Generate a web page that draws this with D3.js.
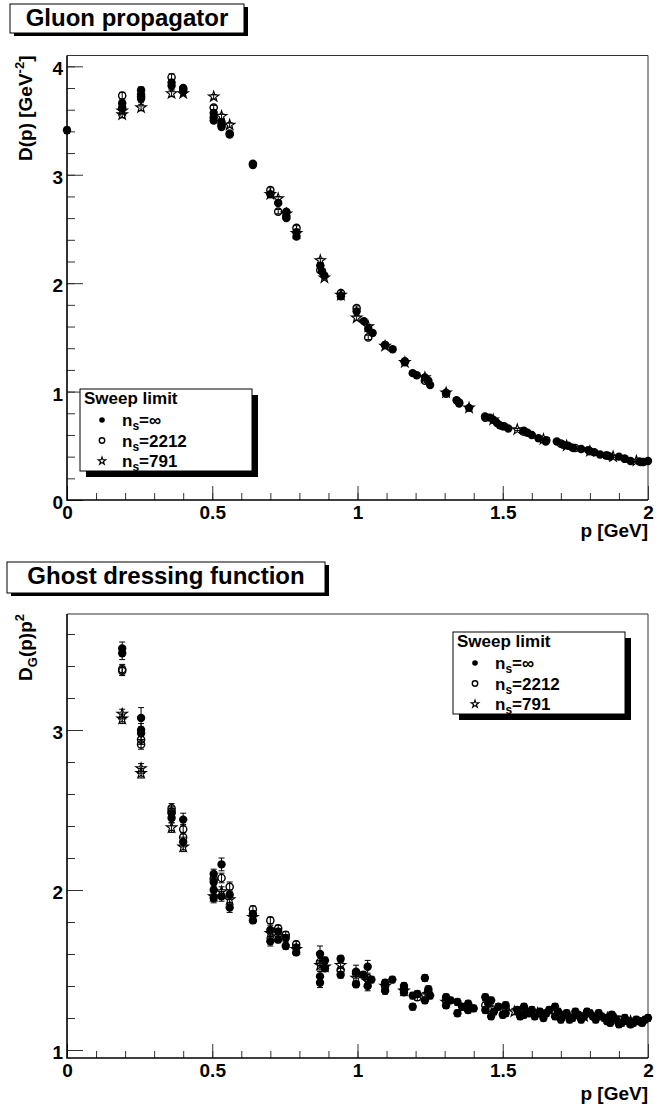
<!DOCTYPE html>
<html>
<head>
<meta charset="utf-8">
<script src="https://cdn.jsdelivr.net/npm/d3@7/dist/d3.min.js"></script>
<style>
body { margin: 0; background: #fff; }
svg text { font-family: "Liberation Sans", Arial, Helvetica, sans-serif; font-weight: bold; fill: #000; }
</style>
</head>
<body>
<script>
//tick values and labels shared by both panels
var xTickValues = [0, 0.5, 1, 1.5, 2];
var xTickLabels = ["0", "0.5", "1", "1.5", "2"];
var gluonYTicks = [0, 1, 2, 3, 4];
var ghostYTicks = [1, 2, 3];

//legend entries (sweep limit n_s)
var legendTitle = "Sweep limit";
var sweepLimits = ["\u221e", "2212", "791"];

//gluon propagator D(p): [p, value, error]
var gluonInf = [
    [0, 3.41, 0.03],
    [0.19, 3.66, 0.03], [0.19, 3.62, 0.03],
    [0.255, 3.78, 0.03], [0.255, 3.74, 0.03], [0.255, 3.70, 0.03],
    [0.36, 3.85, 0.03], [0.36, 3.82, 0.03],
    [0.40, 3.80, 0.02], [0.40, 3.77, 0.02],
    [0.505, 3.57, 0.02], [0.505, 3.53, 0.02], [0.505, 3.50, 0.02],
    [0.532, 3.48, 0.02], [0.532, 3.44, 0.02],
    [0.56, 3.37, 0.02], [0.64, 3.09, 0.02],
    [0.70, 2.82, 0.02], [0.727, 2.74, 0.02], [0.755, 2.66, 0.02], [0.755, 2.60, 0.02],
    [0.79, 2.47, 0.02], [0.79, 2.43, 0.02],
    [0.872, 2.16, 0.02], [0.878, 2.11, 0.02], [0.886, 2.07, 0.02],
    [0.943, 1.88, 0.02], [0.997, 1.74, 0.02], [1.022, 1.65, 0.02],
    [1.037, 1.58, 0.02], [1.052, 1.54, 0.02], [1.095, 1.43, 0.02], [1.121, 1.39, 0.02],
    [1.163, 1.27, 0.02], [1.19, 1.17, 0.02], [1.204, 1.15, 0.02],
    [1.232, 1.13, 0.02], [1.244, 1.10, 0.02], [1.25, 1.06, 0.02],
    [1.305, 0.99, 0.02], [1.341, 0.92, 0.02], [1.35, 0.89, 0.02], [1.384, 0.85, 0.02],
    [1.439, 0.77, 0.01], [1.455, 0.76, 0.01], [1.467, 0.74, 0.01], [1.48, 0.71, 0.01],
    [1.49, 0.69, 0.01], [1.505, 0.68, 0.01], [1.519, 0.66, 0.01],
    [1.573, 0.64, 0.01], [1.585, 0.62, 0.01], [1.60, 0.60, 0.01], [1.623, 0.57, 0.01],
    [1.648, 0.54, 0.01], [1.686, 0.54, 0.01], [1.708, 0.51, 0.01], [1.725, 0.50, 0.01],
    [1.743, 0.48, 0.01], [1.77, 0.47, 0.01], [1.794, 0.46, 0.01], [1.815, 0.44, 0.01],
    [1.835, 0.42, 0.01], [1.855, 0.41, 0.01], [1.87, 0.40, 0.01], [1.90, 0.40, 0.01],
    [1.92, 0.38, 0.01], [1.94, 0.36, 0.01], [1.97, 0.355, 0.01], [1.985, 0.35, 0.01],
    [2.0, 0.36, 0.01]
];
var gluon2212 = [
    [0.19, 3.73, 0.03], [0.255, 3.72, 0.03], [0.36, 3.90, 0.03], [0.40, 3.79, 0.02],
    [0.505, 3.62, 0.02], [0.532, 3.46, 0.02], [0.56, 3.38, 0.02], [0.64, 3.10, 0.02],
    [0.70, 2.86, 0.02], [0.727, 2.66, 0.02], [0.755, 2.62, 0.02], [0.79, 2.51, 0.02],
    [0.872, 2.12, 0.02], [0.943, 1.91, 0.02], [0.997, 1.77, 0.02], [1.037, 1.50, 0.02],
    [1.095, 1.43, 0.02], [1.163, 1.28, 0.02], [1.232, 1.10, 0.02], [1.305, 0.98, 0.02],
    [1.35, 0.90, 0.02], [1.44, 0.76, 0.01], [1.50, 0.68, 0.01], [1.573, 0.63, 0.01],
    [1.65, 0.55, 0.01], [1.70, 0.52, 0.01], [1.75, 0.48, 0.01], [1.80, 0.45, 0.01],
    [1.86, 0.41, 0.01], [1.92, 0.38, 0.01], [1.98, 0.35, 0.01]
];
var gluon791 = [
    [0.19, 3.59, 0.03], [0.19, 3.555, 0.03], [0.255, 3.62, 0.03], [0.36, 3.75, 0.03],
    [0.40, 3.75, 0.02], [0.505, 3.72, 0.02], [0.532, 3.54, 0.02], [0.56, 3.46, 0.02],
    [0.70, 2.82, 0.02], [0.727, 2.78, 0.02], [0.755, 2.64, 0.02], [0.79, 2.46, 0.02],
    [0.872, 2.21, 0.02], [0.886, 2.05, 0.02], [0.943, 1.89, 0.02], [0.997, 1.68, 0.02],
    [1.037, 1.60, 0.02], [1.095, 1.42, 0.02], [1.163, 1.27, 0.02], [1.232, 1.13, 0.02],
    [1.305, 0.99, 0.02], [1.384, 0.85, 0.02], [1.467, 0.74, 0.01], [1.55, 0.65, 0.01],
    [1.64, 0.56, 0.01], [1.72, 0.50, 0.01], [1.80, 0.45, 0.01], [1.88, 0.40, 0.01],
    [1.96, 0.36, 0.01]
];

//ghost dressing function D_G(p)p^2: [p, value, error]
var ghostInf = [
    [0.19, 3.51, 0.04], [0.19, 3.48, 0.04],
    [0.255, 3.075, 0.065], [0.255, 3.00, 0.04], [0.255, 2.98, 0.04],
    [0.36, 2.48, 0.03], [0.36, 2.45, 0.03],
    [0.40, 2.44, 0.04], [0.40, 2.30, 0.03],
    [0.505, 2.10, 0.03], [0.505, 2.05, 0.03], [0.505, 2.00, 0.03], [0.505, 1.95, 0.03],
    [0.532, 2.16, 0.04], [0.532, 1.96, 0.03],
    [0.56, 1.97, 0.03], [0.56, 1.89, 0.03],
    [0.64, 1.85, 0.02], [0.64, 1.81, 0.02],
    [0.70, 1.75, 0.03], [0.70, 1.68, 0.03],
    [0.727, 1.74, 0.02], [0.727, 1.69, 0.02],
    [0.753, 1.70, 0.02], [0.753, 1.65, 0.02],
    [0.789, 1.64, 0.02], [0.789, 1.61, 0.02],
    [0.871, 1.60, 0.05], [0.871, 1.46, 0.03], [0.871, 1.42, 0.03],
    [0.888, 1.56, 0.02], [0.888, 1.51, 0.02],
    [0.942, 1.57, 0.02], [0.942, 1.47, 0.02],
    [0.995, 1.49, 0.04], [0.995, 1.41, 0.02],
    [1.02, 1.47, 0.02], [1.035, 1.52, 0.04], [1.035, 1.40, 0.03], [1.048, 1.44, 0.02],
    [1.095, 1.42, 0.02], [1.095, 1.37, 0.02], [1.12, 1.44, 0.02],
    [1.16, 1.40, 0.02], [1.16, 1.36, 0.02],
    [1.19, 1.34, 0.02], [1.19, 1.27, 0.02], [1.206, 1.35, 0.02],
    [1.232, 1.45, 0.02], [1.232, 1.31, 0.02], [1.244, 1.38, 0.02], [1.25, 1.34, 0.02],
    [1.305, 1.33, 0.02], [1.305, 1.28, 0.02], [1.32, 1.31, 0.02],
    [1.344, 1.30, 0.02], [1.344, 1.23, 0.02], [1.36, 1.27, 0.02],
    [1.381, 1.29, 0.02], [1.381, 1.25, 0.02], [1.40, 1.26, 0.02],
    [1.44, 1.33, 0.02], [1.44, 1.25, 0.02], [1.45, 1.29, 0.02], [1.46, 1.31, 0.02],
    [1.46, 1.21, 0.02], [1.47, 1.24, 0.02], [1.485, 1.27, 0.02], [1.50, 1.22, 0.02],
    [1.51, 1.28, 0.02], [1.51, 1.23, 0.02], [1.55, 1.25, 0.02], [1.56, 1.21, 0.02],
    [1.573, 1.27, 0.02], [1.573, 1.22, 0.02], [1.59, 1.23, 0.02], [1.60, 1.25, 0.02],
    [1.61, 1.21, 0.02], [1.628, 1.24, 0.02], [1.64, 1.20, 0.02], [1.65, 1.23, 0.02],
    [1.66, 1.25, 0.02], [1.68, 1.27, 0.02], [1.68, 1.21, 0.02], [1.69, 1.24, 0.02],
    [1.70, 1.19, 0.02], [1.71, 1.22, 0.02], [1.72, 1.23, 0.02], [1.73, 1.19, 0.02],
    [1.74, 1.20, 0.02], [1.75, 1.24, 0.02], [1.76, 1.22, 0.02], [1.77, 1.19, 0.02],
    [1.78, 1.21, 0.02], [1.79, 1.24, 0.02], [1.80, 1.23, 0.02], [1.81, 1.21, 0.02],
    [1.82, 1.19, 0.02], [1.83, 1.23, 0.02], [1.84, 1.21, 0.02], [1.85, 1.20, 0.02],
    [1.86, 1.18, 0.02], [1.87, 1.17, 0.02], [1.875, 1.22, 0.02], [1.88, 1.21, 0.02],
    [1.89, 1.19, 0.02], [1.90, 1.16, 0.02], [1.91, 1.17, 0.02], [1.92, 1.20, 0.02],
    [1.93, 1.18, 0.02], [1.94, 1.16, 0.02], [1.95, 1.17, 0.02], [1.96, 1.19, 0.02],
    [1.97, 1.18, 0.02], [1.98, 1.17, 0.02], [1.99, 1.19, 0.02], [2.0, 1.20, 0.02]
];
var ghost2212 = [
    [0.19, 3.38, 0.03], [0.19, 3.37, 0.03], [0.255, 2.94, 0.03], [0.255, 2.91, 0.03],
    [0.36, 2.51, 0.03], [0.36, 2.49, 0.03], [0.40, 2.38, 0.03], [0.40, 2.33, 0.03],
    [0.505, 2.07, 0.03], [0.532, 2.075, 0.03], [0.56, 2.02, 0.03], [0.64, 1.88, 0.02],
    [0.70, 1.81, 0.02], [0.727, 1.76, 0.02], [0.753, 1.72, 0.02], [0.789, 1.66, 0.02],
    [0.871, 1.55, 0.03], [0.942, 1.50, 0.02], [0.995, 1.48, 0.02], [1.035, 1.45, 0.02],
    [1.095, 1.40, 0.02], [1.16, 1.38, 0.02], [1.206, 1.33, 0.02], [1.244, 1.36, 0.02],
    [1.305, 1.31, 0.02], [1.381, 1.28, 0.02], [1.44, 1.28, 0.02], [1.51, 1.26, 0.02],
    [1.573, 1.26, 0.02], [1.63, 1.23, 0.02], [1.68, 1.24, 0.02], [1.75, 1.22, 0.02],
    [1.82, 1.20, 0.02], [1.90, 1.19, 0.02], [1.97, 1.18, 0.02]
];
var ghost791 = [
    [0.19, 3.10, 0.03], [0.19, 3.07, 0.03], [0.255, 2.76, 0.03], [0.255, 2.73, 0.03],
    [0.36, 2.39, 0.03], [0.40, 2.27, 0.03], [0.505, 1.96, 0.03], [0.532, 1.99, 0.03],
    [0.56, 1.94, 0.03], [0.64, 1.83, 0.02], [0.70, 1.73, 0.02], [0.727, 1.71, 0.02],
    [0.789, 1.63, 0.02], [0.871, 1.53, 0.03], [0.888, 1.52, 0.02], [0.942, 1.53, 0.02],
    [0.995, 1.45, 0.02], [1.035, 1.43, 0.02], [1.095, 1.40, 0.02], [1.16, 1.37, 0.02],
    [1.232, 1.34, 0.02], [1.305, 1.30, 0.02], [1.381, 1.27, 0.02], [1.46, 1.26, 0.02],
    [1.54, 1.24, 0.02], [1.62, 1.23, 0.02], [1.70, 1.22, 0.02], [1.78, 1.21, 0.02],
    [1.86, 1.20, 0.02], [1.94, 1.18, 0.02]
];

//page size
var width = 668,
    height = 1104;

var svg = d3.select("body")
    .append("svg")
    .attr("width", width)
    .attr("height", height);

var starGen = d3.symbol().type(d3.symbolStar);

//draw one marker of a given kind (0 filled dot, 1 open circle, 2 open star)
function marker(g, kind, cx, cy, r){
    if (kind == 0){
        g.append("circle").attr("cx", cx).attr("cy", cy).attr("r", r).attr("fill", "#000");
    } else if (kind == 1){
        g.append("circle").attr("cx", cx).attr("cy", cy).attr("r", r - 0.6)
            .attr("fill", "none").attr("stroke", "#000").attr("stroke-width", 1.4);
    } else {
        g.append("path").attr("d", starGen.size(r * r / 0.89)())
            .attr("transform", "translate(" + cx + "," + cy + ")")
            .attr("fill", "none").attr("stroke", "#000").attr("stroke-width", 1.1);
    }
}

function drawPanel(cfg){
    var left = 67, right = 648;

    var x = d3.scaleLinear().domain([0, 2]).range([left, right]);
    var y = d3.scaleLinear().domain(cfg.yDomain).range([cfg.bottom, cfg.top]);

    //thin top/right frame
    svg.append("path")
        .attr("d", "M" + left + "," + cfg.top + "H" + right + "V" + cfg.bottom)
        .attr("fill", "none").attr("stroke", "#333").attr("stroke-width", 1);

    //x axis minor ticks then major ticks with labels
    svg.append("g")
        .attr("transform", "translate(0," + cfg.bottom + ")")
        .call(d3.axisBottom(x).tickValues(d3.range(0, 21).map(function(i){ return i / 10; }))
            .tickSize(-7).tickFormat(""))
        .call(function(g){ g.select(".domain").remove(); });
    var xAxis = svg.append("g")
        .attr("transform", "translate(0," + cfg.bottom + ")")
        .call(d3.axisBottom(x).tickValues(xTickValues).tickSize(-14).tickPadding(6)
            .tickFormat(function(d, i){ return xTickLabels[i]; }));
    xAxis.select(".domain").remove();
    xAxis.selectAll("text").attr("font-size", 19).attr("font-family", null);

    //y axis minor and major ticks
    var lo = cfg.yDomain[0], hi = cfg.yDomain[1];
    var minors = d3.range(Math.ceil(lo * 5), Math.floor(hi * 5) + 1).map(function(i){ return i / 5; });
    svg.append("g")
        .attr("transform", "translate(" + left + ",0)")
        .call(d3.axisLeft(y).tickValues(minors).tickSize(-8).tickFormat(""))
        .call(function(g){ g.select(".domain").remove(); });
    var yAxis = svg.append("g")
        .attr("transform", "translate(" + left + ",0)")
        .call(d3.axisLeft(y).tickValues(cfg.yTicks).tickSize(-16).tickPadding(4)
            .tickFormat(d3.format("d")));
    yAxis.select(".domain").remove();
    yAxis.selectAll("text").attr("font-size", 19).attr("font-family", null).attr("dy", "0.45em");
    svg.selectAll(".tick line").attr("stroke", "#333");

    //main axis lines
    svg.append("path")
        .attr("d", "M" + left + "," + cfg.top + "V" + cfg.bottom + "H" + right)
        .attr("fill", "none").attr("stroke", "#000").attr("stroke-width", 1.6);

    //data: error bars then markers, one series after the other
    var plot = svg.append("g");
    cfg.series.forEach(function(data, kind){
        data.forEach(function(d){
            var cx = x(d[0]), y0 = y(d[1] - d[2]), y1 = y(d[1] + d[2]);
            plot.append("path")
                .attr("d", "M" + cx + "," + y0 + "V" + y1 +
                    "M" + (cx - 3) + "," + y0 + "H" + (cx + 3) +
                    "M" + (cx - 3) + "," + y1 + "H" + (cx + 3))
                .attr("fill", "none").attr("stroke", "#000").attr("stroke-width", 1);
            marker(plot, kind, cx, y(d[1]), kind == 2 ? 5.5 : 4.2);
        });
    });

    //x axis title
    svg.append("text")
        .attr("x", right).attr("y", cfg.xTitleY)
        .attr("text-anchor", "end").attr("font-size", 19)
        .text("p [GeV]");

    //y axis title, rotated and aligned to the top of the frame
    var yt = svg.append("text")
        .attr("transform", "translate(32," + cfg.top + ") rotate(-90)")
        .attr("text-anchor", "end").attr("font-size", 19);
    cfg.yTitle(yt);

    //title box with shadow
    var tb = cfg.titleBox;
    svg.append("rect").attr("x", tb[0] + 4).attr("y", tb[1] + 3).attr("width", tb[2]).attr("height", tb[3]).attr("fill", "#000");
    svg.append("rect").attr("x", tb[0]).attr("y", tb[1]).attr("width", tb[2]).attr("height", tb[3])
        .attr("fill", "#fff").attr("stroke", "#000").attr("stroke-width", 1);
    svg.append("text")
        .attr("x", tb[0] + tb[2] / 2).attr("y", tb[1] + 22)
        .attr("text-anchor", "middle").attr("font-size", 24)
        .text(cfg.title);

    //legend box with shadow
    var lg = cfg.legend;
    svg.append("rect").attr("x", lg[0] + 6).attr("y", lg[1] + 6).attr("width", 172).attr("height", 82).attr("fill", "#000");
    svg.append("rect").attr("x", lg[0]).attr("y", lg[1]).attr("width", 172).attr("height", 82)
        .attr("fill", "#fff").attr("stroke", "#000").attr("stroke-width", 1);
    svg.append("text")
        .attr("x", lg[0] + 4).attr("y", lg[1] + 15)
        .attr("font-size", 17)
        .text(legendTitle);
    sweepLimits.forEach(function(s, i){
        var ry = lg[1] + 31 + i * 20.5;
        marker(svg, i, lg[0] + 22, ry, i == 0 ? 2.8 : i == 1 ? 3.3 : 4);
        var t = svg.append("text")
            .attr("x", lg[0] + 42).attr("y", ry + 6)
            .attr("font-size", 17);
        t.append("tspan").text("n");
        t.append("tspan").attr("dy", 4).attr("font-size", 12).text("s");
        t.append("tspan").attr("dy", -4).text("=" + s);
    });
}

//gluon propagator panel
drawPanel({
    top: 55.5, bottom: 500,
    yDomain: [0, 4.1], yTicks: gluonYTicks,
    series: [gluonInf, gluon2212, gluon791],
    xTitleY: 537,
    title: "Gluon propagator", titleBox: [10, 4, 234, 29],
    legend: [80, 389],
    yTitle: function(t){
        t.append("tspan").text("D(p) [GeV");
        t.append("tspan").attr("dy", -8).attr("font-size", 13).text("-2");
        t.append("tspan").attr("dy", 8).text("]");
    }
});

//ghost dressing function panel
drawPanel({
    top: 614, bottom: 1058,
    yDomain: [0.95, 3.725], yTicks: ghostYTicks,
    series: [ghostInf, ghost2212, ghost791],
    xTitleY: 1100,
    title: "Ghost dressing function", titleBox: [7, 562, 318, 31],
    legend: [453, 632],
    yTitle: function(t){
        t.append("tspan").text("D");
        t.append("tspan").attr("dy", 5).attr("font-size", 13).text("G");
        t.append("tspan").attr("dy", -5).text("(p)p");
        t.append("tspan").attr("dy", -8).attr("font-size", 13).text("2");
    }
});
</script>
</body>
</html>
